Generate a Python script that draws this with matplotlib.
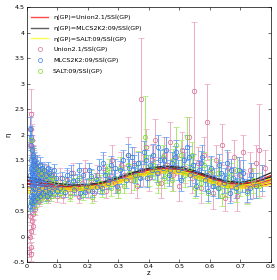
import matplotlib
matplotlib.use("Agg")
import matplotlib.pyplot as plt
from matplotlib.lines import Line2D

# Union2.1 data points (z, eta, error)
union_z = [0.008, 0.009, 0.010, 0.011, 0.012, 0.013, 0.014, 0.015, 0.015, 0.016, 0.017, 0.018, 0.019,
           0.020, 0.021, 0.022, 0.023, 0.024, 0.025, 0.026, 0.028, 0.030, 0.031, 0.033, 0.035, 0.037,
           0.040, 0.043, 0.046, 0.050, 0.053, 0.056, 0.060, 0.064, 0.068, 0.072, 0.077, 0.082, 0.088,
           0.094, 0.100,
           0.11, 0.12, 0.13, 0.14, 0.15, 0.16, 0.17, 0.18, 0.19, 0.20, 0.21, 0.22, 0.23, 0.24, 0.25,
           0.26, 0.27, 0.28, 0.29, 0.30, 0.31, 0.32, 0.33, 0.34, 0.35, 0.36, 0.374, 0.38, 0.39, 0.40,
           0.41, 0.42, 0.43, 0.44, 0.45, 0.46, 0.47, 0.48, 0.49, 0.50, 0.51, 0.52, 0.53, 0.54, 0.548,
           0.56, 0.57, 0.58, 0.59, 0.60, 0.61, 0.62, 0.63, 0.64, 0.65, 0.66, 0.67, 0.68, 0.69, 0.70,
           0.71, 0.72, 0.73, 0.74, 0.75, 0.76, 0.77, 0.78]
union_eta = [-0.30, 0.00, 1.80, 0.40, -0.35, 2.40, -0.20, 2.10, 0.10, 1.90, 0.30, 1.75, 0.45,
             1.60, 0.20, 1.50, 0.60, 1.45, 0.70, 1.35, 0.55, 1.40, 0.80, 1.30, 0.75, 1.25,
             0.70, 1.20, 0.85, 1.30, 0.80, 1.10, 0.90, 1.25, 0.75, 1.15, 0.85, 1.20, 0.95,
             1.05, 0.80,
             1.15, 0.80, 1.10, 0.85, 1.25, 0.95, 0.78, 1.05, 1.30, 0.90, 1.10, 0.85, 1.20, 1.00, 1.35,
             0.90, 1.15, 1.50, 1.05, 0.95, 1.40, 1.20, 1.60, 1.10, 1.45, 1.00, 2.70, 1.30, 1.75, 1.15,
             1.50, 1.90, 1.25, 1.05, 1.60, 1.40, 1.85, 1.20, 1.55, 1.00, 1.70, 1.35, 1.95, 1.15, 2.85,
             1.45, 0.95, 1.60, 2.25, 1.25, 0.85, 1.50, 1.05, 1.80, 0.75, 1.35, 1.00, 1.55, 0.80, 1.20,
             1.65, 0.95, 1.30, 1.05, 1.45, 1.70, 1.10, 1.35]
union_err = [0.10, 0.12, 0.30, 0.12, 0.12, 0.50, 0.10, 0.35, 0.12, 0.30, 0.15, 0.25, 0.12,
             0.20, 0.15, 0.20, 0.12, 0.18, 0.12, 0.15, 0.12, 0.18, 0.10, 0.15, 0.10, 0.15,
             0.10, 0.12, 0.10, 0.15, 0.10, 0.12, 0.10, 0.15, 0.10, 0.12, 0.10, 0.15, 0.12,
             0.10, 0.12,
             0.20, 0.15, 0.20, 0.12, 0.20, 0.15, 0.12, 0.15, 0.20, 0.15, 0.20, 0.15, 0.20, 0.15, 0.25,
             0.15, 0.20, 0.30, 0.20, 0.20, 0.25, 0.20, 0.35, 0.25, 0.30, 0.25, 1.20, 0.30, 0.35, 0.25,
             0.30, 0.40, 0.30, 0.30, 0.35, 0.30, 0.40, 0.30, 0.35, 0.30, 0.35, 0.30, 0.40, 0.30, 1.35,
             0.30, 0.30, 0.35, 0.75, 0.30, 0.30, 0.30, 0.30, 0.40, 0.25, 0.30, 0.30, 0.35, 0.30, 0.30,
             0.35, 0.30, 0.35, 0.30, 0.35, 0.90, 0.30, 0.35]

# MLCS2K2:09 data points
mlcs_z = [0.010, 0.011, 0.012, 0.013, 0.014, 0.015, 0.016, 0.017, 0.018, 0.019, 0.020, 0.021, 0.022,
          0.023, 0.024, 0.025, 0.026, 0.027, 0.028, 0.030, 0.032, 0.034, 0.036, 0.038, 0.040, 0.042,
          0.044, 0.046, 0.048, 0.050, 0.053, 0.056, 0.059, 0.062, 0.065, 0.068, 0.071, 0.074, 0.077,
          0.080, 0.084, 0.088, 0.092, 0.096, 0.100,
          0.0105, 0.0125, 0.0135, 0.0145, 0.0155, 0.0165, 0.0175, 0.0185, 0.0195, 0.0205, 0.0215,
          0.0225, 0.0245, 0.0265, 0.029, 0.031, 0.035, 0.039, 0.043, 0.047, 0.055, 0.063, 0.070,
          0.115, 0.125, 0.135, 0.145, 0.155, 0.165, 0.175, 0.185, 0.195, 0.205, 0.215, 0.225, 0.235,
          0.245, 0.255, 0.265, 0.275, 0.285, 0.295, 0.305, 0.315, 0.325, 0.335, 0.345, 0.355, 0.365,
          0.375, 0.385, 0.395, 0.405, 0.415, 0.425, 0.435, 0.445, 0.455, 0.465, 0.475, 0.485, 0.495,
          0.505, 0.515, 0.525, 0.535, 0.545, 0.555, 0.565, 0.575, 0.585, 0.595, 0.605, 0.615, 0.625,
          0.635, 0.645, 0.655, 0.665, 0.675, 0.685, 0.695, 0.705, 0.720, 0.735, 0.750, 0.770,
          0.11, 0.13, 0.15, 0.17, 0.19, 0.21, 0.23, 0.25, 0.27, 0.29, 0.31, 0.33, 0.35, 0.37, 0.39,
          0.41, 0.43, 0.45, 0.47, 0.49, 0.51, 0.53, 0.55, 0.57, 0.59, 0.61, 0.63, 0.65, 0.67, 0.69,
          0.71, 0.73]
mlcs_eta = [0.60, 2.10, 0.70, 1.95, 0.80, 1.80, 0.65, 1.70, 0.90, 1.60, 0.75, 1.55, 0.85,
            1.50, 0.70, 1.45, 0.95, 1.40, 0.80, 1.35, 0.75, 1.45, 0.85, 1.30, 0.90, 1.40,
            0.80, 1.25, 0.95, 1.35, 0.85, 1.30, 0.90, 1.20, 0.80, 1.35, 0.95, 1.25, 0.85,
            1.20, 0.90, 1.30, 1.00, 1.15, 0.90,
            1.20, 1.50, 1.10, 1.35, 1.00, 1.25, 1.10, 1.40, 1.05, 1.30, 0.95,
            1.20, 1.10, 1.25, 1.05, 1.15, 1.00, 1.10, 1.05, 1.15, 1.05, 1.10, 1.00,
            1.15, 0.88, 1.05, 1.25, 0.92, 1.10, 0.85, 1.20, 1.00, 1.30, 0.90, 1.12, 1.35,
            0.95, 1.20, 1.05, 1.40, 1.15, 1.00, 1.30, 1.50, 1.10, 1.35, 1.55, 1.20, 1.45,
            1.30, 1.65, 1.15, 1.40, 1.60, 1.25, 1.50, 1.35, 1.70, 1.20, 1.45, 1.55, 1.30,
            1.10, 1.50, 1.75, 1.20, 1.40, 1.00, 1.30, 1.55, 1.10, 0.90, 1.35, 1.15, 0.95,
            1.25, 1.05, 1.45, 0.85, 1.15, 0.95, 1.30, 1.10, 0.90, 1.20, 1.00, 1.15,
            0.95, 1.20, 1.08, 1.30, 0.88, 1.18, 0.98, 1.45, 1.10, 1.35, 1.18, 1.60, 1.40, 1.15, 1.50,
            1.30, 1.75, 1.50, 1.30, 1.65, 1.35, 1.55, 1.25, 1.45, 1.20, 1.00, 1.40, 1.15, 1.30, 1.05,
            1.25, 0.95]
mlcs_err = [0.15, 0.25, 0.15, 0.22, 0.15, 0.20, 0.15, 0.20, 0.12, 0.18, 0.15, 0.18, 0.12,
            0.15, 0.15, 0.15, 0.12, 0.15, 0.12, 0.15, 0.12, 0.15, 0.12, 0.12, 0.12, 0.15,
            0.12, 0.12, 0.10, 0.12, 0.10, 0.12, 0.10, 0.12, 0.10, 0.12, 0.10, 0.12, 0.10,
            0.12, 0.10, 0.12, 0.10, 0.10, 0.10,
            0.20, 0.20, 0.18, 0.20, 0.15, 0.18, 0.15, 0.18, 0.15, 0.15, 0.15,
            0.15, 0.15, 0.15, 0.12, 0.12, 0.12, 0.12, 0.12, 0.12, 0.10, 0.10, 0.10,
            0.12, 0.10, 0.12, 0.15, 0.10, 0.12, 0.10, 0.15, 0.12, 0.15, 0.12, 0.12, 0.18,
            0.12, 0.15, 0.12, 0.18, 0.15, 0.15, 0.18, 0.20, 0.15, 0.18, 0.20, 0.15, 0.20,
            0.18, 0.22, 0.18, 0.20, 0.22, 0.18, 0.20, 0.20, 0.25, 0.20, 0.20, 0.22, 0.20,
            0.20, 0.22, 0.25, 0.20, 0.22, 0.20, 0.20, 0.25, 0.20, 0.20, 0.22, 0.20, 0.20,
            0.22, 0.20, 0.25, 0.20, 0.22, 0.20, 0.25, 0.22, 0.22, 0.25, 0.25, 0.25,
            0.10, 0.15, 0.12, 0.15, 0.10, 0.15, 0.12, 0.20, 0.15, 0.18, 0.15, 0.22, 0.20, 0.18, 0.20,
            0.18, 0.25, 0.22, 0.20, 0.25, 0.20, 0.22, 0.20, 0.22, 0.20, 0.20, 0.22, 0.20, 0.22, 0.20,
            0.25, 0.22]

# SALT:09 data points
salt_z = [0.012, 0.014, 0.016, 0.018, 0.020, 0.022, 0.024, 0.026, 0.028, 0.030, 0.033, 0.036, 0.039,
          0.042, 0.045, 0.048, 0.052, 0.056, 0.060, 0.064, 0.068, 0.072, 0.076, 0.080, 0.085, 0.090,
          0.095, 0.100,
          0.110, 0.125, 0.140, 0.155, 0.170, 0.185, 0.200, 0.215, 0.230, 0.245, 0.260, 0.275, 0.290,
          0.305, 0.320, 0.335, 0.350, 0.365, 0.387, 0.400, 0.415, 0.430, 0.445, 0.460, 0.475, 0.490,
          0.505, 0.520, 0.525, 0.535, 0.550, 0.565, 0.580, 0.595, 0.610, 0.625, 0.640, 0.655, 0.670,
          0.685, 0.700, 0.720, 0.740,
          0.12, 0.15, 0.18, 0.21, 0.24, 0.27, 0.30, 0.33, 0.36, 0.39, 0.42, 0.45, 0.48, 0.51, 0.54,
          0.57, 0.60, 0.63, 0.66, 0.69, 0.76]
salt_eta = [1.90, 0.65, 1.70, 0.70, 1.55, 0.60, 1.45, 0.75, 1.35, 0.70, 1.30, 0.80, 1.25,
            0.75, 1.20, 0.80, 1.30, 0.85, 1.15, 0.75, 1.20, 0.85, 1.10, 0.80, 1.15, 0.85,
            1.05, 0.90,
            0.85, 1.05, 0.80, 0.95, 1.15, 0.82, 1.00, 0.78, 1.10, 0.90, 1.25, 0.95, 1.15,
            1.35, 1.00, 1.25, 1.10, 1.45, 1.95, 1.20, 1.40, 1.05, 1.55, 1.25, 1.10, 1.80,
            1.60, 1.20, 1.95, 1.35, 0.95, 1.15, 1.40, 0.85, 1.05, 1.25, 0.80, 1.00, 1.20,
            0.90, 1.05, 0.85, 1.10,
            0.92, 1.10, 0.95, 1.15, 1.05, 1.35, 0.90, 1.40, 1.20, 1.55, 1.30, 1.15, 1.50, 1.30, 1.60,
            1.05, 1.30, 0.95, 1.10, 1.30, 1.00]
salt_err = [0.20, 0.15, 0.18, 0.15, 0.18, 0.15, 0.15, 0.12, 0.15, 0.12, 0.15, 0.12, 0.12,
            0.12, 0.12, 0.10, 0.12, 0.10, 0.12, 0.10, 0.12, 0.10, 0.10, 0.10, 0.12, 0.10,
            0.10, 0.10,
            0.10, 0.12, 0.10, 0.12, 0.15, 0.10, 0.12, 0.12, 0.15, 0.12, 0.18, 0.15, 0.15,
            0.20, 0.15, 0.18, 0.18, 0.22, 0.80, 0.20, 0.22, 0.20, 0.25, 0.20, 0.20, 0.35,
            0.30, 0.22, 0.40, 0.25, 0.20, 0.22, 0.25, 0.20, 0.22, 0.25, 0.20, 0.22, 0.25,
            0.22, 0.25, 0.22, 0.25,
            0.10, 0.12, 0.12, 0.15, 0.15, 0.18, 0.15, 0.20, 0.20, 0.22, 0.20, 0.20, 0.22, 0.20, 0.25,
            0.20, 0.22, 0.20, 0.22, 0.25, 0.25]

# GP reconstructions: mean and 1-sigma
gp_z = [0.0, 0.05, 0.10, 0.15, 0.20, 0.25, 0.30, 0.35, 0.40, 0.45, 0.50, 0.55, 0.60, 0.65, 0.70, 0.75, 0.80]
gp_mlcs = [1.10, 1.05, 1.00, 0.98, 0.99, 1.04, 1.13, 1.23, 1.31, 1.35, 1.33, 1.26, 1.15, 1.06, 1.03, 1.07, 1.17]
gp_mlcs_sig = [0.07, 0.05, 0.04, 0.03, 0.03, 0.03, 0.03, 0.03, 0.03, 0.03, 0.03, 0.03, 0.03, 0.03, 0.03, 0.05, 0.08]
gp_union = [1.04, 1.00, 0.97, 0.95, 0.96, 1.01, 1.10, 1.20, 1.28, 1.31, 1.29, 1.22, 1.12, 1.03, 1.00, 1.03, 1.12]
gp_union_sig = [0.07, 0.05, 0.04, 0.03, 0.03, 0.03, 0.03, 0.03, 0.03, 0.03, 0.03, 0.03, 0.03, 0.03, 0.03, 0.05, 0.08]
gp_salt = [0.90, 0.91, 0.92, 0.92, 0.94, 0.99, 1.07, 1.17, 1.25, 1.28, 1.26, 1.19, 1.09, 1.00, 0.97, 1.00, 1.08]
gp_salt_sig = [0.05, 0.04, 0.03, 0.03, 0.03, 0.03, 0.03, 0.03, 0.03, 0.03, 0.03, 0.03, 0.03, 0.03, 0.03, 0.04, 0.06]

PINK = "#d9729c"
PINK_L = "#eeaac4"
BLUE = "#3f7fe6"
BLUE_L = "#6aa3f0"
GREEN = "#7fdc30"
GREEN_L = "#a6ec68"


def errs(ax, z, eta, err, c, cl):
    ax.errorbar(z, eta, yerr=err, fmt="o", ms=3.2, mfc="none", mec=c, mew=0.55,
                ecolor=cl, elinewidth=0.7, capsize=1.9, capthick=0.6)


def gp(ax, mean, sig, c, lw):
    up = [m + s for m, s in zip(mean, sig)]
    lo = [m - s for m, s in zip(mean, sig)]
    ax.plot(gp_z, up, color=c, lw=lw * 0.7)
    ax.plot(gp_z, lo, color=c, lw=lw * 0.7)
    ax.plot(gp_z, mean, color=c, lw=lw)


def main():
    plt.rcParams["font.family"] = ["DejaVu Sans"]
    fig = plt.figure(figsize=(2.77, 2.80), dpi=100)
    ax = fig.add_axes([0.097, 0.064, 0.881, 0.911])

    errs(ax, union_z, union_eta, union_err, PINK, PINK_L)
    errs(ax, salt_z, salt_eta, salt_err, GREEN, GREEN_L)
    errs(ax, mlcs_z, mlcs_eta, mlcs_err, BLUE, BLUE_L)

    gp(ax, gp_mlcs, gp_mlcs_sig, "#2e2e2e", 1.3)
    gp(ax, gp_union, gp_union_sig, "#e8262a", 1.1)
    gp(ax, gp_salt, gp_salt_sig, "#f5e616", 1.3)
    ax.plot(gp_z, gp_salt, color="#f0a020", lw=0.4)

    ax.set_xlim(0, 0.8)
    ax.set_ylim(-0.5, 4.5)
    ax.set_xticks([0, 0.1, 0.2, 0.3, 0.4, 0.5, 0.6, 0.7, 0.8])
    ax.set_xticklabels(["0", "0.1", "0.2", "0.3", "0.4", "0.5", "0.6", "0.7", "0.8"])
    ax.set_yticks([-0.5, 0, 0.5, 1, 1.5, 2, 2.5, 3, 3.5, 4, 4.5])
    ax.set_yticklabels(["-0.5", "0", "0.5", "1", "1.5", "2", "2.5", "3", "3.5", "4", "4.5"])
    ax.tick_params(direction="in", top=True, right=True, labelsize=4.6, length=2, width=0.4, pad=1.5)
    for s in ax.spines.values():
        s.set_linewidth(0.5)
    ax.set_xlabel("z", fontsize=5, labelpad=0.5)
    ax.set_ylabel("η", fontsize=5, labelpad=1)

    handles = [
        Line2D([], [], color="#ff4a4a", lw=1.0),
        Line2D([], [], color="#606060", lw=1.0),
        Line2D([], [], color="#ffff50", lw=1.0),
        Line2D([], [], ls="none", marker="o", ms=3.0, mfc="none", mec=PINK, mew=0.5),
        Line2D([], [], ls="none", marker="o", ms=3.0, mfc="none", mec=BLUE, mew=0.5),
        Line2D([], [], ls="none", marker="o", ms=3.0, mfc="none", mec=GREEN, mew=0.5),
    ]
    labels = [
        "η(GP)=Union2.1/SSÍ(GP)",
        "η(GP)=MLCS2K2:09/SSÍ(GP)",
        "η(GP)=SALT:09/SSÍ(GP)",
        "Union2.1/SSÍ(GP)",
        "MLCS2K2:09/SSÍ(GP)",
        "SALT:09/SSÍ(GP)",
    ]
    ax.legend(handles, labels, loc="upper left", frameon=False, fontsize=4.6,
              handlelength=2.6, handletextpad=0.8, labelspacing=0.75,
              borderaxespad=0.3, bbox_to_anchor=(0.0, 0.99))

    fig.savefig("out.png", dpi=100)
    plt.close(fig)


if __name__ == "__main__":
    main()
